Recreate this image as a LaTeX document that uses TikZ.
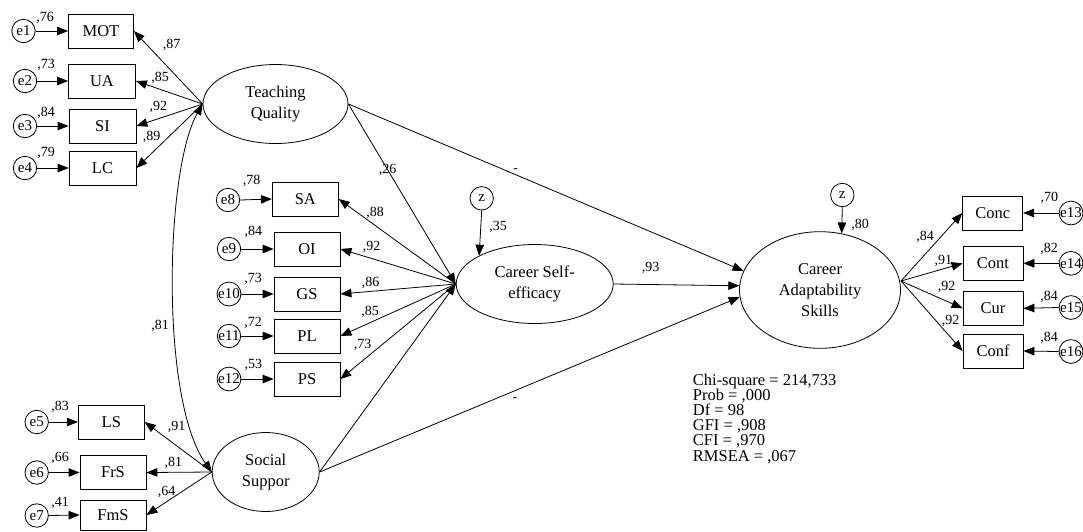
\documentclass[tikz,border=0pt]{standalone}
\usepackage{fontspec}
\setmainfont{Liberation Serif}
\usetikzlibrary{arrows.meta,shapes.geometric}
\newcommand\mainfs{\fontsize{16.5}{21}\selectfont}
\newcommand\labfs{\fontsize{14}{15}\selectfont}
\newcommand\errfs{\fontsize{15}{15}\selectfont}
\begin{document}
\begin{tikzpicture}[x=1pt,y=-1pt,
  obs/.style={draw,line width=0.8pt,rectangle,minimum width=66pt,minimum height=34pt,inner sep=0pt,font=\mainfs},
  lat/.style={draw,line width=0.8pt,ellipse,inner sep=0pt,align=center,font=\mainfs},
  err/.style={draw,line width=0.8pt,circle,minimum size=23.4pt,inner sep=0pt,font=\errfs},
  lbl/.style={inner sep=0pt,font=\labfs},
  stat/.style={inner sep=0pt,anchor=base west,font=\mainfs},
  arr/.style={line width=0.8pt,-{Triangle[length=11pt,width=8.5pt]}},
  darr/.style={line width=0.8pt,{Triangle[length=11pt,width=8.5pt]}-{Triangle[length=11pt,width=8.5pt]}}
]
\useasboundingbox (0,0) rectangle (1083,531);

% Teaching Quality group
\node[lat,minimum width=145pt,minimum height=79pt] (TQ) at (275.5,104) {Teaching\\Quality};
\node[obs,minimum width=65pt] (MOT) at (101,31) {MOT};
\node[obs,minimum width=67pt] (UA) at (102,81) {UA};
\node[obs,minimum width=67pt] (SI) at (102.5,126) {SI};
\node[obs,minimum width=67pt] (LC) at (102.5,168) {LC};
\node[err] (e1) at (23.5,31) {e1};
\node[err] (e2) at (25,81) {e2};
\node[err] (e3) at (25,126) {e3};
\node[err] (e4) at (25,168) {e4};

% Career Self-efficacy group
\node[lat,minimum width=157pt,minimum height=79pt] (CSE) at (534.7,284) {Career Self-\\efficacy};
\node[obs] (SA) at (305.3,199) {SA};
\node[obs] (OI) at (307,249) {OI};
\node[obs] (GS) at (307,294) {GS};
\node[obs] (PL) at (307,336) {PL};
\node[obs] (PS) at (307,379) {PS};
\node[err] (e8) at (228,200) {e8};
\node[err] (e9) at (229,249) {e9};
\node[err] (e10) at (229,294) {e10};
\node[err] (e11) at (229,336) {e11};
\node[err] (e12) at (229,379) {e12};
\node[err] (z1) at (481.7,198.3) {z};

% Social Support group
\node[lat,minimum width=107pt,minimum height=79pt] (SS) at (265.7,472) {Social\\Suppor};
\node[obs] (LS) at (111.3,422) {LS};
\node[obs] (FrS) at (113,472.5) {FrS};
\node[obs,minimum height=30pt] (FmS) at (113,515) {FmS};
\node[err] (e5) at (36.7,422) {e5};
\node[err] (e6) at (36.7,472.5) {e6};
\node[err] (e7) at (36.7,515.5) {e7};

% Career Adaptability group
\node[lat,minimum width=161pt,minimum height=116.6pt] (CAS) at (820,290) {Career\\Adaptability\\Skills};
\node[err] (z2) at (842.3,195) {z};
\node[obs,minimum width=60pt] (Conc) at (992.7,213) {Conc};
\node[obs,minimum width=60pt] (Cont) at (993,263.3) {Cont};
\node[obs,minimum width=60pt] (Cur) at (993,308.3) {Cur};
\node[obs,minimum width=60pt] (Conf) at (993,351) {Conf};
\node[err] (e13) at (1071,213) {e13};
\node[err] (e14) at (1071,263.3) {e14};
\node[err] (e15) at (1071,307.5) {e15};
\node[err] (e16) at (1071,351.5) {e16};
\coordinate (casout) at (901,281);

% error arrows
\foreach \e/\b in {e1/MOT,e2/UA,e3/SI,e4/LC,e5/LS,e6/FrS,e7/FmS,e8/SA,e9/OI,e10/GS,e11/PL,e12/PS}
  \draw[arr] (\e.east) -- (\b.west);
\foreach \e/\b in {e13/Conc,e14/Cont,e15/Cur,e16/Conf}
  \draw[arr] (\e.west) -- (\b.east);

% loadings
\foreach \b in {MOT,UA,SI,LC} \draw[arr] (TQ.west) -- (\b.east);
\foreach \b in {SA,OI,GS,PL,PS} \draw[arr] (CSE.west) -- (\b.east);
\foreach \b in {LS,FrS,FmS} \draw[arr] (SS.west) -- (\b.east);
\foreach \b in {Conc,Cont,Cur,Conf} \draw[arr] (casout) -- (\b.west);

% structural paths
\draw[arr] (TQ.east) -- (CSE.west);
\draw[arr] (SS.east) -- (CSE.west);
\draw[arr] (TQ.east) -- (CAS.166);
\draw[arr] (CSE.east) -- (CAS.177);
\draw[arr] (SS.east) -- (CAS.185);
\draw[arr] (z1.south) -- (CSE.153);
\draw[arr] (z2.south) -- (CAS.69);

% correlation
\draw[darr] (TQ.west) .. controls (165,170) and (160,400) .. (SS.west);

% labels
\node[lbl] (l1) at (45,18) {,76};
\node[lbl] (l2) at (46,65) {,73};
\node[lbl] (l3) at (46,113) {,84};
\node[lbl] (l4) at (46,153) {,79};
\node[lbl] (l5) at (171.7,45) {,87};
\node[lbl] (l6) at (160,78.3) {,85};
\node[lbl] (l7) at (158.3,106.7) {,92};
\node[lbl] (l8) at (151.7,136.7) {,89};
\node[lbl] (l9) at (251.7,181) {,78};
\node[lbl] (l10) at (253.3,231.7) {,84};
\node[lbl] (l11) at (253,279.3) {,73};
\node[lbl] (l12) at (253,323.3) {,72};
\node[lbl] (l13) at (253.3,365) {,53};
\node[lbl] (l14) at (375,212.7) {,88};
\node[lbl] (l15) at (371.7,246.7) {,92};
\node[lbl] (l16) at (370.7,282.7) {,86};
\node[lbl] (l17) at (370,311.7) {,85};
\node[lbl] (l18) at (362.7,345) {,73};
\node[lbl] (l19) at (60,406.7) {,83};
\node[lbl] (l20) at (60,458.3) {,66};
\node[lbl] (l21) at (60,503.3) {,41};
\node[lbl] (l22) at (176.7,426.7) {,91};
\node[lbl] (l23) at (173.3,463.3) {,81};
\node[lbl] (l24) at (166.7,491.7) {,64};
\node[lbl] (l25) at (160,326) {,81};
\node[lbl] (l26) at (387.7,170) {,26};
\node[lbl] (l27) at (515.7,171) {-};
\node[lbl] (l28) at (515,400) {-};
\node[lbl] (l29) at (498,227) {,35};
\node[lbl] (l30) at (650.7,268.3) {,93};
\node[lbl] (l31) at (860,225) {,80};
\node[lbl] (l32) at (925,236.7) {,84};
\node[lbl] (l33) at (943.3,260.7) {,91};
\node[lbl] (l34) at (946.7,286.7) {,92};
\node[lbl] (l35) at (950.7,321) {,92};
\node[lbl] (l36) at (1049.3,198.3) {,70};
\node[lbl] (l37) at (1049,249) {,82};
\node[lbl] (l38) at (1049,296.7) {,84};
\node[lbl] (l39) at (1049,338.3) {,84};

% fit statistics
\node[stat] (s1) at (692.7,385) {Chi-square = 214,733};
\node[stat] (s2) at (692.7,400.2) {Prob = ,000};
\node[stat] (s3) at (692.7,415.4) {Df = 98};
\node[stat] (s4) at (692.7,430.6) {GFI = ,908};
\node[stat] (s5) at (692.7,445.8) {CFI = ,970};
\node[stat] (s6) at (692.7,461) {RMSEA = ,067};
\end{tikzpicture}
\end{document}
